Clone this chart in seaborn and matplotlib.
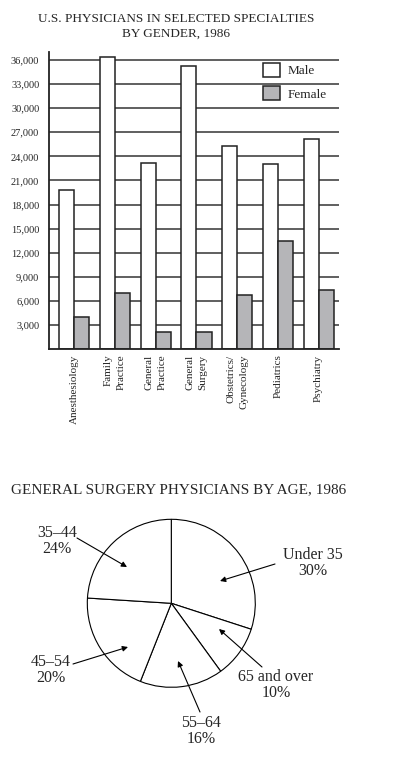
import matplotlib
matplotlib.use('Agg')
import pandas as pd
import matplotlib.pyplot as plt
import seaborn as sns

# Bar chart data
specialties = ['Anesthesiology', 'Family\nPractice', 'General\nPractice', 'General\nSurgery',
               'Obstetrics/\nGynecology', 'Pediatrics', 'Psychiatry']
male = [19800, 36400, 23200, 35200, 25300, 23100, 26200]
female = [4000, 7000, 2100, 2100, 6700, 13400, 7300]
y_ticks = list(range(3000, 36001, 3000))

# Pie chart data
age_groups = ['Under 35', '65 and over', '55–64', '45–54', '35–44']
age_shares = [30, 10, 16, 20, 24]

sns.set_style('white')
plt.rcParams['font.family'] = ['Liberation Serif', 'DejaVu Serif']

df = pd.DataFrame({
    'Specialty': specialties * 2,
    'Count': male + female,
    'Gender': ['Male'] * len(male) + ['Female'] * len(female),
})

W, H = 395, 776
fig = plt.figure(figsize=(W / 100, H / 100), dpi=100)


def box(x0, y0, x1, y1):
    # pixel box (from top-left) -> figure fraction rect
    return [x0 / W, 1 - y1 / H, (x1 - x0) / W, (y1 - y0) / H]


# --- bar chart ---
ax = fig.add_axes(box(49, 52, 339, 349))
sns.barplot(data=df, x='Specialty', y='Count', hue='Gender', hue_order=['Male', 'Female'],
            palette={'Male': 'white', 'Female': '#b4b4b8'}, edgecolor='#222222',
            linewidth=1.1, width=0.74, ax=ax)
ax.set_axisbelow(True)
ax.yaxis.grid(True, color='#444444', linewidth=1.2)
ax.set_ylim(0, 37000)
ax.set_xlim(-0.62, 6.5)
ax.set_yticks(y_ticks)
ax.set_yticklabels([f'{v:,}' for v in y_ticks], fontsize=7.5)
ax.set_xlabel('')
ax.set_ylabel('')
ax.tick_params(axis='both', length=0)
ax.tick_params(axis='y', pad=7)
ax.tick_params(axis='x', pad=4)
for lab in ax.get_xticklabels():
    lab.set_rotation(90)
    lab.set_fontsize(8)
    lab.set_multialignment('right')
    lab.set_linespacing(1.55)
    lab.set_ha('center')
    lab.set_va('top')
sns.despine(ax=ax)
for side in ['left', 'bottom']:
    ax.spines[side].set_color('#222222')
    ax.spines[side].set_linewidth(1.3)
sns.move_legend(ax, 'upper left', bbox_to_anchor=(0.738, 0.963), frameon=False, title=None,
                fontsize=9.5, handlelength=1.3, handleheight=1.2, handletextpad=0.6,
                labelspacing=0.7, borderaxespad=0, borderpad=0)

fig.text(176 / W, 1 - 13 / H, 'U.S. PHYSICIANS IN SELECTED SPECIALTIES\nBY GENDER, 1986',
         ha='center', va='top', fontsize=9.5, linespacing=1.3)

# --- pie chart ---
cx, cy, r = 171.3, 603.3, 84.0
pax = fig.add_axes(box(0, 500, W, H))
wedges, _ = pax.pie(age_shares, startangle=90, counterclock=False,
                    colors=['white'] * len(age_shares),
                    wedgeprops=dict(edgecolor='black', linewidth=0.8))
pax.set_aspect('auto')
pax.set_xlim(-cx / r, (W - cx) / r)
pax.set_ylim((cy - H) / r, (cy - 500) / r)


def to_pie(p):
    return ((p[0] - cx) / r, (cy - p[1]) / r)


# label layout in pixels: text centre, arrow tail, arrow head
label_layout = {
    'Under 35': ((313, 563), (275, 564), (220, 581)),
    '65 and over': ((276, 685), (262, 667), (219, 629)),
    '55–64': ((201, 731), (200, 712), (178, 661)),
    '45–54': ((51, 670), (73, 664), (128, 647)),
    '35–44': ((57, 541), (77, 538), (127, 567)),
}
for name, share in zip(age_groups, age_shares):
    txt, tail, head = label_layout[name]
    pax.text(*to_pie(txt), f'{name}\n{share}%', ha='center', va='center',
             fontsize=11.5, linespacing=1.07)
    pax.annotate('', xy=to_pie(head), xytext=to_pie(tail),
                 arrowprops=dict(arrowstyle='-|>', color='black', lw=0.8,
                                 mutation_scale=8, shrinkA=0, shrinkB=0))

fig.text(10.7 / W, 1 - 493 / H, 'GENERAL SURGERY PHYSICIANS BY AGE, 1986',
         ha='left', va='baseline', fontsize=11)

fig.savefig('out.png', dpi=100)
